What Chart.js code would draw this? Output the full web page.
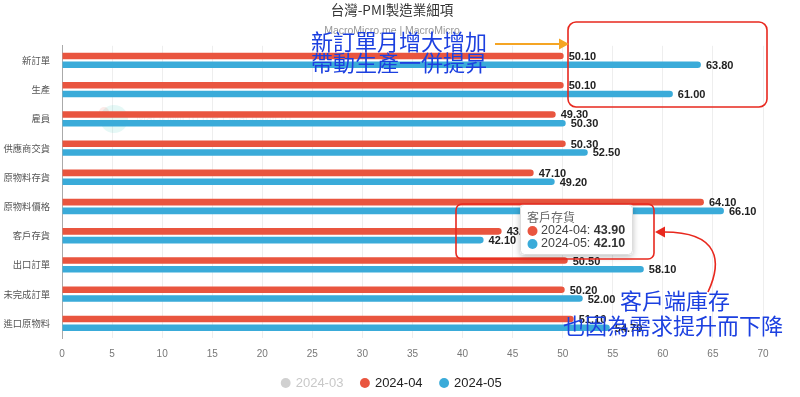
<!DOCTYPE html>
<html lang="zh-Hant">
<head>
    <meta charset="UTF-8">
    <title>台灣-PMI製造業細項</title>
    <script src="https://cdn.jsdelivr.net/npm/chart.js"></script>
    <style>
        body { margin: 0; background: #fff; }
        .wrap { width: 800px; height: 397px; position: relative; }
    </style>
</head>
<body>
    <div class="wrap">
        <canvas id="pmiChart"></canvas>
    </div>

    <script>
        const categories = ['新訂單', '生產', '雇員', '供應商交貨', '原物料存貨', '原物料價格', '客戶存貨', '出口訂單', '未完成訂單', '進口原物料'];
        const series03 = [];   // hidden in the source chart
        const series04 = [50.10, 50.10, 49.30, 50.30, 47.10, 64.10, 43.90, 50.50, 50.20, 51.10];
        const series05 = [63.80, 61.00, 50.30, 52.50, 49.20, 66.10, 42.10, 58.10, 52.00, 54.70];
        const xMin = 0, xMax = 70, xStep = 5;

        const RED = '#e9553f';
        const BLUE = '#3aabd9';
        const FONT = "'Liberation Sans', 'Noto Sans CJK TC', sans-serif";
        const CJK = "'Noto Sans CJK TC', sans-serif";

        // value labels at the end of each bar
        const valueLabels = {
            id: 'valueLabels',
            afterDatasetsDraw(chart) {
                const ctx = chart.ctx;
                ctx.save();
                ctx.font = 'bold 11px ' + FONT;
                ctx.fillStyle = '#222';
                ctx.textBaseline = 'middle';
                chart.data.datasets.forEach((ds, i) => {
                    const meta = chart.getDatasetMeta(i);
                    if (meta.hidden || !chart.isDatasetVisible(i)) return;
                    meta.data.forEach((bar, j) => {
                        ctx.fillText(ds.data[j].toFixed(2), bar.x + 5, bar.y + 1);
                    });
                });
                ctx.restore();
            }
        };

        // faint watermark behind the bars
        const watermark = {
            id: 'watermark',
            beforeDatasetsDraw(chart) {
                const ctx = chart.ctx;
                ctx.save();
                ctx.globalAlpha = 0.12;
                ctx.fillStyle = '#2cc3b5';
                ctx.beginPath();
                ctx.arc(114, 119, 14, 0, Math.PI * 2);
                ctx.fill();
                ctx.fillStyle = '#e9553f';
                ctx.beginPath();
                ctx.arc(104, 112, 5, 0, Math.PI * 2);
                ctx.fill();
                ctx.fillStyle = '#7fa0b0';
                ctx.font = '12px ' + FONT;
                ctx.textBaseline = 'middle';
                ctx.fillText('MacroMicro.me | MacroMicro', 136, 119);
                ctx.restore();
            }
        };

        function arrowHead(ctx, tipX, tipY, dir, size, color) {
            ctx.fillStyle = color;
            ctx.beginPath();
            ctx.moveTo(tipX, tipY);
            ctx.lineTo(tipX - dir * size, tipY - size * 0.55);
            ctx.lineTo(tipX - dir * size, tipY + size * 0.55);
            ctx.closePath();
            ctx.fill();
        }

        // hand drawn notes, frames and the pinned tooltip
        const notes = {
            id: 'notes',
            afterDraw(chart) {
                const ctx = chart.ctx;
                ctx.save();

                // red frame top right
                ctx.strokeStyle = '#e8281e';
                ctx.lineWidth = 1.6;
                ctx.beginPath();
                ctx.roundRect(568, 22, 199, 85, 8);
                ctx.stroke();

                // tooltip for 客戶存貨
                const k = categories.indexOf('客戶存貨');
                ctx.save();
                ctx.shadowColor = 'rgba(0,0,0,0.25)';
                ctx.shadowBlur = 6;
                ctx.shadowOffsetY = 2;
                ctx.fillStyle = '#fff';
                ctx.beginPath();
                ctx.roundRect(520, 204, 113, 51, 4);
                ctx.fill();
                ctx.restore();
                ctx.strokeStyle = '#ddd';
                ctx.lineWidth = 1;
                ctx.beginPath();
                ctx.roundRect(520.5, 204.5, 112, 50, 4);
                ctx.stroke();

                ctx.textBaseline = 'middle';
                ctx.fillStyle = '#666';
                ctx.font = '12px ' + CJK;
                ctx.fillText(categories[k], 527, 217);
                const rows = [['2024-04', series04[k], RED, 231], ['2024-05', series05[k], BLUE, 244]];
                rows.forEach(([name, v, col, y]) => {
                    ctx.fillStyle = col;
                    ctx.beginPath();
                    ctx.arc(532.5, y, 5, 0, Math.PI * 2);
                    ctx.fill();
                    ctx.font = '12.5px ' + FONT;
                    ctx.fillStyle = '#444';
                    const lead = name + ': ';
                    ctx.fillText(lead, 541, y);
                    const w = ctx.measureText(lead).width;
                    ctx.font = 'bold 12.5px ' + FONT;
                    ctx.fillStyle = '#333';
                    ctx.fillText(v.toFixed(2), 541 + w, y);
                });

                ctx.strokeStyle = '#e8281e';
                ctx.lineWidth = 1.6;
                ctx.beginPath();
                ctx.roundRect(456, 204, 198, 55, 6);
                ctx.stroke();

                // curved red arrow
                ctx.beginPath();
                ctx.moveTo(708, 292);
                ctx.bezierCurveTo(722, 262, 720, 232, 664, 232);
                ctx.stroke();
                arrowHead(ctx, 655, 232, -1, 10, '#e8281e');

                // orange arrow
                ctx.strokeStyle = '#f5a524';
                ctx.lineWidth = 1.8;
                ctx.beginPath();
                ctx.moveTo(495, 44);
                ctx.lineTo(560, 44);
                ctx.stroke();
                arrowHead(ctx, 569, 44, 1, 10, '#f5a524');

                // blue notes
                ctx.fillStyle = '#1c40e0';
                ctx.font = '22px ' + CJK;
                ctx.textBaseline = 'middle';
                ctx.fillText('新訂單月增大增加', 311, 42);
                ctx.fillText('帶動生產一併提昇', 311, 63);
                ctx.fillText('客戶端庫存', 620, 301);
                ctx.fillText('也因為需求提升而下降', 563, 326);

                ctx.restore();
            }
        };

        const ctx = document.getElementById('pmiChart').getContext('2d');

        const pmiChart = new Chart(ctx, {
            type: 'bar',
            data: {
                labels: categories,
                datasets: [
                    { label: '2024-03', data: series03, backgroundColor: '#cccccc', hidden: true },
                    { label: '2024-04', data: series04, backgroundColor: RED },
                    { label: '2024-05', data: series05, backgroundColor: BLUE }
                ]
            },
            options: {
                indexAxis: 'y',
                responsive: true,
                maintainAspectRatio: false,
                animation: false,
                events: [],
                categoryPercentage: 0.6,
                barPercentage: 0.75,
                borderRadius: 4,
                layout: { padding: { left: 2, right: 18, bottom: -2.5 } },
                scales: {
                    x: {
                        min: xMin,
                        max: xMax,
                        ticks: { stepSize: xStep, color: '#777', font: { size: 10, family: FONT }, padding: 10.5 },
                        grid: { color: '#eeeeee', drawTicks: false },
                        border: { display: false },
                        afterFit(scale) { scale.height = 20.5; }
                    },
                    y: {
                        ticks: { color: '#555', font: { size: 9.3, family: CJK }, padding: 12 },
                        grid: { display: false, drawTicks: false },
                        border: { display: true, dash: [3, 3], color: '#aaa' },
                        afterFit(scale) { scale.width = 60; }
                    },
                    // empty right gutter so the plot ends at 70 like the source
                    gutter: {
                        type: 'linear',
                        axis: 'y',
                        position: 'right',
                        ticks: { display: false },
                        grid: { display: false, drawTicks: false },
                        border: { display: false },
                        afterFit(scale) { scale.width = 19; }
                    }
                },
                plugins: {
                    title: {
                        display: true,
                        text: '台灣-PMI製造業細項',
                        color: '#333',
                        font: { size: 13.5, weight: 'normal', family: CJK },
                        padding: { top: 2, bottom: 7 }
                    },
                    subtitle: {
                        display: true,
                        text: 'MacroMicro.me | MacroMicro',
                        color: '#999',
                        font: { size: 10.5, family: FONT },
                        padding: { bottom: 8 }
                    },
                    legend: {
                        position: 'bottom',
                        labels: {
                            usePointStyle: true,
                            pointStyle: 'circle',
                            boxWidth: 7,
                            boxHeight: 7,
                            padding: 18,
                            color: '#222',
                            font: { size: 13, family: FONT },
                            generateLabels(chart) {
                                const items = Chart.defaults.plugins.legend.labels.generateLabels(chart);
                                items.forEach(it => {
                                    if (it.hidden) {
                                        it.hidden = false;
                                        it.fontColor = '#c8c8c8';
                                        it.fillStyle = '#d0d0d0';
                                        it.strokeStyle = '#d0d0d0';
                                    }
                                });
                                return items;
                            }
                        }
                    },
                    tooltip: { enabled: false }
                }
            },
            plugins: [watermark, valueLabels, notes]
        });
    </script>
</body>
</html>
